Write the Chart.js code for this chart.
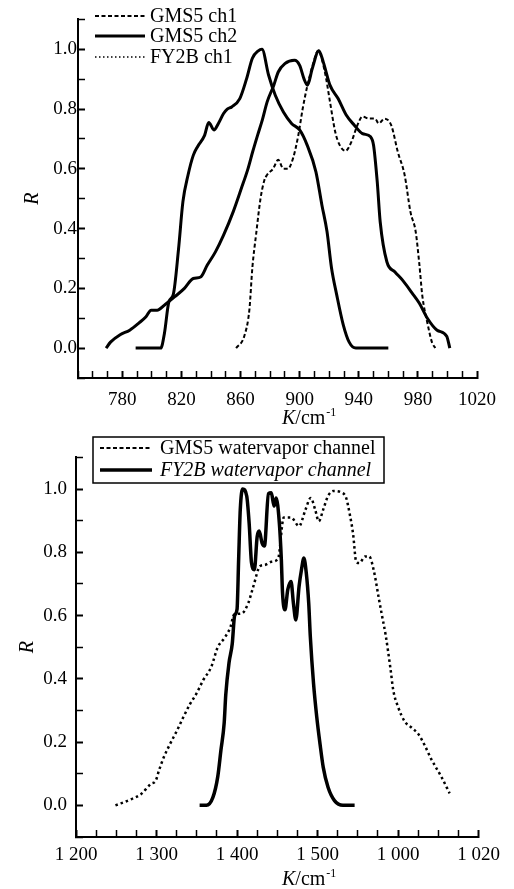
<!DOCTYPE html>
<html>
<head>
<meta charset="utf-8">
<script src="https://cdn.jsdelivr.net/npm/chart.js@4.4.0/dist/chart.umd.min.js"></script>
<style>
  body { margin: 0; background: #fff; }
  canvas { display: block; }
</style>
</head>
<body>
<canvas id="topChart" width="514" height="430"></canvas>
<canvas id="bottomChart" width="514" height="459"></canvas>
<script>
// ---- top panel: window channels ----
const gms5Ch1K = [857, 862.5, 866, 868, 870.5, 873.5, 876, 878, 882, 885.5, 889, 892, 895.5, 899, 902, 905.3, 909, 912.5, 917, 920.5, 924, 927, 931, 935, 939, 942.5, 947, 951, 953.5, 957.5, 962, 966.5, 971, 975, 978.5, 981, 983, 986.4, 989.5, 991.8];
const gms5Ch1R = [0, 0.04, 0.13, 0.27, 0.38, 0.50, 0.56, 0.58, 0.60, 0.63, 0.60, 0.60, 0.635, 0.71, 0.80, 0.88, 0.95, 0.995, 0.925, 0.825, 0.725, 0.68, 0.66, 0.69, 0.745, 0.775, 0.768, 0.768, 0.752, 0.768, 0.745, 0.655, 0.58, 0.455, 0.39, 0.28, 0.175, 0.085, 0.02, 0];

const gms5Ch2K = [789, 806, 808.5, 811.5, 814.5, 818, 821, 824.5, 828, 831, 835.5, 838.5, 842, 845, 848.5, 851, 854, 859.5, 864, 868, 872, 874.5, 879, 883.5, 889, 894.5, 900, 905, 911, 915, 918.5, 921.5, 925, 929.5, 933.5, 938, 960];
const gms5Ch2R = [0, 0, 0.05, 0.155, 0.18, 0.33, 0.49, 0.58, 0.645, 0.675, 0.71, 0.755, 0.73, 0.752, 0.785, 0.80, 0.807, 0.835, 0.90, 0.97, 0.995, 1.0, 0.913, 0.846, 0.79, 0.752, 0.73, 0.68, 0.59, 0.48, 0.39, 0.27, 0.18, 0.078, 0.02, 0, 0];

const fy2bCh1K = [769, 772, 778.5, 785, 791.5, 796, 799.5, 803.5, 809, 815.5, 822, 828, 833, 837.5, 843, 848.5, 855, 860.5, 865, 868.2, 871.5, 874.7, 878, 882.5, 885.5, 890, 896.5, 900, 903, 905.3, 908.5, 913, 916, 920.5, 926, 931.5, 937, 942.5, 948, 950, 952.5, 954.5, 959, 964.5, 970, 976, 981, 986.4, 993, 999.5, 1001.6];
const fy2bCh1R = [0, 0.02, 0.045, 0.06, 0.085, 0.105, 0.127, 0.127, 0.146, 0.172, 0.20, 0.233, 0.238, 0.278, 0.322, 0.378, 0.456, 0.534, 0.60, 0.657, 0.712, 0.763, 0.824, 0.88, 0.924, 0.952, 0.963, 0.946, 0.90, 0.88, 0.935, 0.995, 0.957, 0.88, 0.835, 0.78, 0.746, 0.718, 0.707, 0.679, 0.556, 0.422, 0.289, 0.255, 0.225, 0.185, 0.15, 0.1, 0.06, 0.04, 0];

const topTickValues = [780, 820, 860, 900, 940, 980, 1020];
const topTickText = ["780", "820", "860", "900", "940", "980", "1020"];

// ---- bottom panel: water vapour channels ----
const gms5WvK = [1249, 1269, 1281, 1293, 1299, 1303, 1309, 1317, 1325.5, 1333.5, 1341.5, 1349.5, 1358, 1368, 1376, 1384, 1392, 1396, 1406, 1414, 1420, 1428.5, 1434.5, 1442.5, 1451, 1458, 1467, 1477, 1485, 1491.5, 1497, 1501.5, 1507, 1513, 1520, 1529, 1535.5, 1540, 1544, 1548, 1552, 1559, 1564, 1570, 1576, 1580, 1584.5, 1590.5, 1594, 1600, 1608, 1617, 1625, 1633, 1641, 1647, 1653, 1664];
const gms5WvR = [0, 0.02, 0.036, 0.068, 0.078, 0.11, 0.152, 0.195, 0.237, 0.28, 0.32, 0.353, 0.396, 0.438, 0.50, 0.528, 0.565, 0.602, 0.607, 0.64, 0.69, 0.756, 0.76, 0.77, 0.78, 0.91, 0.91, 0.883, 0.935, 0.972, 0.935, 0.898, 0.935, 0.978, 0.994, 0.99, 0.972, 0.92, 0.86, 0.77, 0.766, 0.787, 0.787, 0.74, 0.655, 0.6, 0.539, 0.433, 0.364, 0.311, 0.266, 0.245, 0.226, 0.19, 0.147, 0.12, 0.094, 0.038];

const fy2bWvK = [1353.5, 1362, 1370, 1376, 1380, 1384, 1386, 1390, 1394, 1397, 1400, 1402, 1404, 1407, 1412, 1415, 1418, 1421.5, 1425, 1427.5, 1431, 1434, 1439, 1442.5, 1446, 1448.5, 1452.5, 1455, 1456.5, 1459.5, 1463, 1467, 1470, 1473, 1477, 1480, 1483, 1486, 1489, 1491, 1495, 1499, 1503, 1507, 1513, 1521, 1531.5, 1546];
const fy2bWvR = [0, 0, 0.025, 0.09, 0.175, 0.26, 0.35, 0.45, 0.51, 0.6, 0.62, 0.78, 0.935, 1.0, 0.978, 0.893, 0.766, 0.745, 0.85, 0.867, 0.83, 0.82, 0.985, 0.988, 0.946, 0.972, 0.893, 0.777, 0.671, 0.618, 0.682, 0.708, 0.639, 0.586, 0.692, 0.745, 0.782, 0.734, 0.639, 0.533, 0.385, 0.279, 0.195, 0.121, 0.057, 0.015, 0, 0];

// tick labels as printed in the figure
const bottomTickValues = [1200, 1300, 1400, 1500, 1600, 1700];
const bottomTickText = ["1 200", "1 300", "1 400", "1 500", "1 000", "1 020"];

const yTickValues = [0, 0.2, 0.4, 0.6, 0.8, 1.0];
const yTickText = ["0.0", "0.2", "0.4", "0.6", "0.8", "1.0"];

const FONT = "'Liberation Serif', 'Times New Roman', serif";
Chart.defaults.font.family = FONT;
Chart.defaults.color = "#000";

function toPoints(xs, ys) {
  return xs.map((x, i) => ({ x: x, y: ys[i] }));
}

function pickLabel(v, vals, texts) {
  const i = vals.findIndex(t => Math.abs(t - v) < 1e-6);
  return i >= 0 ? texts[i] : "";
}

function isMajor(v, vals) {
  return vals.some(t => Math.abs(t - v) < 1e-6);
}

function xAxis(min, max, step, vals, texts, pad) {
  return {
    type: "linear",
    min: min,
    max: max,
    afterFit: s => { s.height = 52; },
    ticks: {
      stepSize: step,
      autoSkip: false,
      maxRotation: 0,
      padding: pad,
      font: { size: 19 },
      callback: v => pickLabel(v, vals, texts)
    },
    grid: {
      drawOnChartArea: false,
      color: "#000",
      tickLength: -7,
      tickWidth: c => (c.tick && isMajor(c.tick.value, vals) ? 2 : 1.5)
    },
    border: { color: "#000", width: 2 }
  };
}

function yAxis(width, pad, titlePad) {
  return {
    type: "linear",
    min: -0.1,
    max: 1.1,
    afterFit: s => { s.width = width; },
    ticks: {
      stepSize: 0.1,
      autoSkip: false,
      padding: pad,
      font: { size: 19 },
      callback: v => pickLabel(v, yTickValues, yTickText)
    },
    grid: {
      drawOnChartArea: false,
      color: "#000",
      tickLength: -7,
      tickWidth: c => (c.tick && isMajor(c.tick.value, yTickValues) ? 2 : 1.5)
    },
    border: { color: "#000", width: 2 },
    title: {
      display: true,
      text: "R",
      font: { size: 20, style: "italic" },
      padding: { top: titlePad, bottom: 0 }
    }
  };
}

// draws K/cm-1 with an italic K
function drawKTitle(ctx, x, y) {
  ctx.fillStyle = "#000";
  ctx.textAlign = "left";
  ctx.textBaseline = "alphabetic";
  ctx.font = "italic 20px " + FONT;
  ctx.fillText("K", x, y);
  x += ctx.measureText("K").width;
  ctx.font = "20px " + FONT;
  ctx.fillText("/cm", x, y);
  x += ctx.measureText("/cm").width;
  ctx.font = "12px " + FONT;
  ctx.fillText("-1", x + 1, y - 8);
}

// legend + x title drawn over the plot
function overlay(cfg) {
  return {
    id: "overlay",
    afterDraw(chart) {
      const ctx = chart.ctx;
      ctx.save();
      if (cfg.box) {
        const b = cfg.box;
        ctx.fillStyle = "#fff";
        ctx.fillRect(b[0], b[1], b[2], b[3]);
        ctx.strokeStyle = "#000";
        ctx.lineWidth = 1.5;
        ctx.strokeRect(b[0], b[1], b[2], b[3]);
      }
      cfg.rows.forEach((r, i) => {
        const ds = chart.data.datasets[r.ds];
        ctx.strokeStyle = "#000";
        ctx.lineWidth = r.width;
        ctx.setLineDash(r.dash);
        ctx.beginPath();
        ctx.moveTo(cfg.lineX[0], r.y);
        ctx.lineTo(cfg.lineX[1], r.y);
        ctx.stroke();
        ctx.setLineDash([]);
        ctx.fillStyle = "#000";
        ctx.textAlign = "left";
        ctx.textBaseline = "middle";
        ctx.font = (r.italic ? "italic " : "") + "20px " + FONT;
        ctx.fillText(ds.label, cfg.textX, r.y + 1);
      });
      drawKTitle(ctx, cfg.titleX, cfg.titleY);
      ctx.restore();
    }
  };
}

const common = {
  responsive: false,
  animation: false,
  plugins: { legend: { display: false }, tooltip: { enabled: false } },
  elements: { point: { radius: 0 } }
};

new Chart(document.getElementById("topChart"), {
  type: "line",
  data: {
    datasets: [
      { label: "GMS5 ch1", data: toPoints(gms5Ch1K, gms5Ch1R), borderColor: "#000", borderWidth: 2, borderDash: [4, 2.5], cubicInterpolationMode: "monotone" },
      { label: "GMS5 ch2", data: toPoints(gms5Ch2K, gms5Ch2R), borderColor: "#000", borderWidth: 3, cubicInterpolationMode: "monotone" },
      { label: "FY2B ch1", data: toPoints(fy2bCh1K, fy2bCh1R), borderColor: "#000", borderWidth: 3, cubicInterpolationMode: "monotone" }
    ]
  },
  options: Object.assign({}, common, {
    layout: { padding: { top: 17, right: 24, left: 0, bottom: 0 } },
    scales: {
      x: xAxis(750, 1020, 10, topTickValues, topTickText, 18),
      y: yAxis(78, 8, 21)
    }
  }),
  plugins: [overlay({
    lineX: [95, 145],
    textX: 150,
    rows: [
      { ds: 0, y: 16, dash: [4, 2.5], width: 1.8 },
      { ds: 1, y: 36, dash: [], width: 3 },
      { ds: 2, y: 57, dash: [1.5, 2.5], width: 1.5 }
    ],
    titleX: 282,
    titleY: 424
  })]
});

new Chart(document.getElementById("bottomChart"), {
  type: "line",
  data: {
    datasets: [
      { label: "GMS5 watervapor channel", data: toPoints(gms5WvK, gms5WvR), borderColor: "#000", borderWidth: 2.5, borderDash: [2.5, 3], cubicInterpolationMode: "monotone" },
      { label: "FY2B watervapor channel", data: toPoints(fy2bWvK, fy2bWvR), borderColor: "#000", borderWidth: 3.5, cubicInterpolationMode: "monotone" }
    ]
  },
  options: Object.assign({}, common, {
    layout: { padding: { top: 25, right: 25, left: 0, bottom: 0 } },
    scales: {
      x: xAxis(1200, 1700, 25, bottomTickValues, bottomTickText, 14),
      y: yAxis(76, 16, 16)
    }
  }),
  plugins: [overlay({
    box: [93, 7, 291, 46],
    lineX: [100, 152],
    textX: 160,
    rows: [
      { ds: 0, y: 18, dash: [4, 2.5], width: 1.8 },
      { ds: 1, y: 40, dash: [], width: 3.5, italic: true }
    ],
    titleX: 282,
    titleY: 455
  })]
});
</script>
</body>
</html>
